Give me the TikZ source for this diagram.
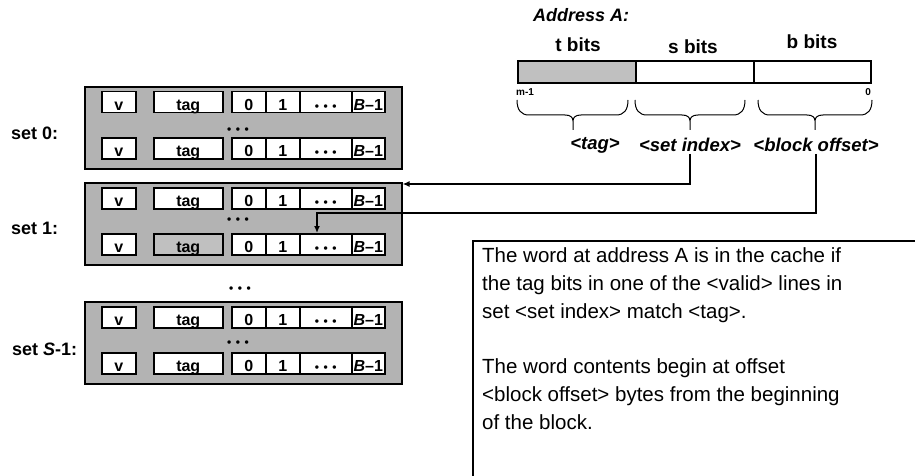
\documentclass[tikz,border=0pt]{standalone}
\usepackage{fontspec}
\setmainfont{Liberation Sans}
\usetikzlibrary{arrows.meta}
\definecolor{setgray}{HTML}{B3B3B3}
\definecolor{hlgray}{HTML}{C0C0C0}
\newcommand\dotsx{{\fontsize{12}{12}\selectfont •\hspace{4.5pt}•\hspace{4.5pt}•}}
\newcommand\cacherow[3]{%
  \node[cell, minimum width=34pt] (#1v) at (101,#2) {v};
  \node[cell, minimum width=69pt, fill=#3] (#1t) at (153,#2) {tag};
  \node[cell, minimum width=34pt] (#1a) at (231,#2) {0};
  \node[cell, minimum width=34pt] (#1b) at (265,#2) {1};
  \node[cell, minimum width=52pt] (#1d) at (299,#2) {\dotsx};
  \node[cell, minimum width=33pt] (#1e) at (351,#2) {\textit{B}–1};
}
\newcommand\bracedraw[3]{%
  \draw[line width=1pt] (#1,100) .. controls (#1,110) and (#1+4,115) .. (#1+12,115)
    -- (#3-8,115) .. controls (#3-3,115) and (#3,117) .. (#3,121) -- (#3,130)
    (#3,121) .. controls (#3,117) and (#3+3,115) .. (#3+8,115)
    -- (#2-12,115) .. controls (#2-4,115) and (#2,110) .. (#2,100);
}
\begin{document}
\begin{tikzpicture}[x=1pt,y=-1pt,
  cell/.style={draw, line width=1.5pt, fill=white, minimum height=21pt, inner sep=0,
    text height=17pt, text depth=0pt,
    anchor=north west, font=\bfseries\fontsize{16}{16}\selectfont},
  setbox/.style={draw, line width=1.6pt, fill=setgray, minimum width=317pt,
    minimum height=82pt, anchor=north west, inner sep=0},
  field/.style={draw, line width=1.6pt, fill=white, minimum height=22pt, inner sep=0,
    anchor=north west},
  setlabel/.style={anchor=west, inner sep=0, font=\bfseries\fontsize{18}{18}\selectfont},
  bitlabel/.style={inner sep=0, font=\bfseries\fontsize{19}{19}\selectfont},
  fieldlabel/.style={inner sep=2pt, font=\bfseries\itshape\fontsize{18.5}{18.5}\selectfont},
  dotlabel/.style={inner sep=0, anchor=base, font=\bfseries},
  conn/.style={line width=1.5pt, -{Latex[length=7pt,width=6pt]}}]
\useasboundingbox (0,0) rectangle (915,476);

% sets
\node[setbox] (set0) at (84,86) {};
\node[setbox] (set1) at (84,182) {};
\node[setbox] (setS) at (84,301) {};

\cacherow{s0r1}{91}{white}
\cacherow{s0r2}{137}{white}
\cacherow{s1r1}{187}{white}
\cacherow{s1r2}{233}{hlgray}
\cacherow{sSr1}{306}{white}
\cacherow{sSr2}{352}{white}

\node[dotlabel] (d0) at (238,133) {\dotsx};
\node[dotlabel] (d1) at (238,223) {\dotsx};
\node[dotlabel] (dS) at (238,346) {\dotsx};
\node[dotlabel] (dmid) at (240,292) {\dotsx};

\node[setlabel] (l0) at (11,133) {set 0:};
\node[setlabel] (l1) at (11,228) {set 1:};
\node[setlabel] (lS) at (12,349) {set \textit{S}-1:};

% address
\node[anchor=west, inner sep=0, font=\bfseries\itshape\fontsize{18}{18}\selectfont] (addr) at (533,15) {Address A:};
\node[bitlabel] (tb) at (578,45) {t bits};
\node[bitlabel] (sb) at (693,47) {s bits};
\node[bitlabel] (bb) at (812,42) {b bits};
\node[field, minimum width=118pt, fill=hlgray] (tf) at (517,60) {};
\node[field, minimum width=118pt] (sf) at (635,60) {};
\node[field, minimum width=117pt] (bf) at (753,60) {};
\node[anchor=west, inner sep=0, font=\bfseries\fontsize{10}{10}\selectfont] (m1) at (516,92) {m-1};
\node[anchor=east, inner sep=0, font=\bfseries\fontsize{10}{10}\selectfont] (z0) at (871,92) {0};

\bracedraw{517}{628}{573}
\bracedraw{635}{745}{690}
\bracedraw{758}{872}{815}

\node[fieldlabel] (ftag) at (595,145) {<tag>};
\node[fieldlabel] (sidx) at (690,145) {<set index>};
\node[fieldlabel] (boff) at (816,145) {<block offset>};

% connectors
\coordinate (c3) at (317,213);
\draw[conn] (sidx.south) |- ([yshift=-2pt]set1.north east);
\draw[conn] (boff.south) |- (c3) -- (c3 |- s1r2d.north);

% note box
\draw[line width=2pt] (473,476) -- (473,241) -- (915,241);
\node[anchor=base west, align=left, inner sep=0, font=\fontsize{20.5}{27.7}\selectfont] (note) at (482,429)
 {The word at address A is in the cache if\\
  the tag bits in one of the <valid> lines in\\
  set <set index> match <tag>.\\[27.7pt]
  The word contents begin at offset\\
  <block offset> bytes from the beginning\\
  of the block.};
\end{tikzpicture}
\end{document}
